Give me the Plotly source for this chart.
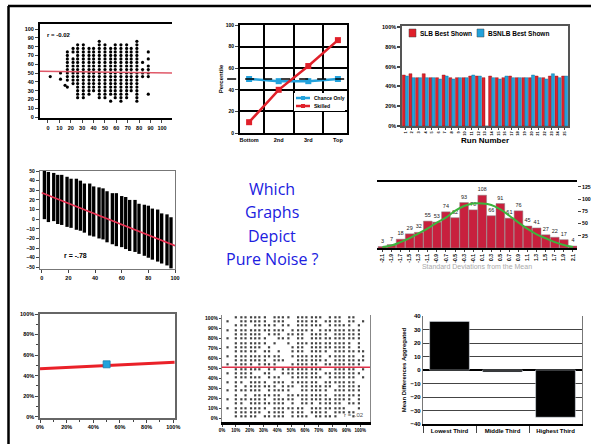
import plotly.graph_objects as go

W, H = 591, 444

# ---------------- DATA ----------------
# Panel 1: scatter (r = -0.02)
p1_cols = [17, 22, 26, 31, 36, 40, 45, 50, 55, 59, 64, 69, 73, 78, 83, 88]
p1_rows = [86, 82, 78, 74, 70, 66, 62, 58, 54, 50, 46, 42, 38, 34, 30, 26, 22, 18]
p1_mask = [
    "......#......#..",
    "..##..##.###.#..",
    ".#############..",
    "##############.#",
    "#.############..",
    "##############.#",
    "###############.",
    "##############.#",
    "################",
    "################",
    "################",
    "##############..",
    ".#############..",
    "#.############..",
    "..############..",
    "..###.######.#.#",
    "..##..##.###.#..",
    "........#.#..#..",
]
p1_extra_x = [2, 11, 11, 15]
p1_extra_y = [46, 50, 43, 36]
p1_fit_x = [-7, 109]
p1_fit_y = [52, 50]
p1_ticks = [0, 10, 20, 30, 40, 50, 60, 70, 80, 90, 100]

# Panel 2: percentile lines
p2_cats = ["Bottom", "2nd", "3rd", "Top"]
p2_names = ["Chance Only", "Skilled"]
p2_chance = [50, 48, 48, 50]
p2_skill = [10, 40, 62, 86]
p2_chance_level = 50

# Panel 3: grouped bars by run
p3_names = ["SLB Best Shown", "BSNLB Best Shown"]
p3_runs = list(range(1, 26))
p3_red = [51.5, 52.8, 48.8, 52.8, 48.8, 48.8, 51.5, 48.8, 48.8, 48.8, 50.5, 50.5, 48.8,
          50.5, 48.8, 48.8, 50.5, 48.8, 48.8, 48.8, 50.5, 48.8, 50.5, 50.5, 50.5]
p3_blue = [50.5, 48.8, 48.8, 48.8, 48.8, 47.5, 50.5, 47.5, 48.8, 48.8, 51.5, 50.5, 0,
           48.8, 47.5, 50.5, 48.8, 48.8, 48.8, 51.5, 48.8, 47.5, 52.8, 48.8, 50.5]
p3_yticks = [0, 20, 40, 60, 80, 100]

# Panel 4: dense negative scatter (columns low..high)
p4_x = [2, 5, 9, 12, 15, 19, 22, 26, 29, 32, 36, 39, 43, 46, 49, 53, 56, 60, 63, 66,
        70, 73, 77, 80, 83, 87, 90, 94, 97]
p4_high = [50, 49, 48, 46, 46, 44, 42, 42, 40, 37, 37, 34, 33, 32, 29, 27, 27, 24, 23, 20,
           20, 16, 15, 14, 11, 10, 6, 5, 2]
p4_low = [0, -3, -2, -5, -6, -8, -9, -11, -12, -14, -17, -18, -20, -21, -24, -26, -28, -29,
          -31, -33, -34, -36, -38, -40, -42, -44, -46, -48, -51]
p4_fit_x = [0, 100]
p4_fit_y = [27.5, -27.5]
p4_xticks = [0, 20, 40, 60, 80, 100]
p4_yticks = [-50, -40, -30, -20, -10, 0, 10, 20, 30, 40, 50]

# Panel 5: histogram with normal curve
p5_labels = ["-2.1", "-1.9", "-1.7", "-1.5", "-1.3", "-1.1", "-0.9", "-0.7", "-0.5", "-0.3",
             "-0.1", "0.1", "0.3", "0.5", "0.7", "0.9", "1.1", "1.3", "1.5", "1.7", "1.9", "2.1"]
p5_counts = [3, 7, 18, 29, 32, 55, 53, 74, 62, 93, 78, 108, 66, 91, 61, 76, 45, 41, 27, 22, 17, 4]
p5_normal = [2, 5, 12, 20, 30, 40, 52, 62, 76, 86, 91, 91, 88, 79, 66, 52, 39, 28, 20, 12, 6, 2]
p5_yticks = [25, 50, 75, 100, 125]

# Panel 6: flat line with one point
p6_fit_x = [0, 101]
p6_fit_y = [46.6, 53]
p6_point_x = [50]
p6_point_y = [51]
p6_ticks = [0, 20, 40, 60, 80, 100]

# Panel 7: dotted grid (r = -.02)
p7_cols = [4, 7, 10, 14, 17, 21, 24, 27, 31, 34, 38, 41, 44, 48, 51, 55, 58, 61, 65, 68,
           71, 75, 78, 82, 85, 88, 92, 95, 99, 102]
p7_rows = [101, 97, 93, 88, 84, 80, 75, 71, 67, 62, 58, 54, 49, 45, 41, 36, 32, 28, 23, 19,
           15, 10, 6, 2]
p7_mask = [
    "..#######.####.######.###.##..",
    "#..######.###..#####.####.##.#",
    "..###.#####.##.######.#####.#.",
    "#.###########.#####.#########.",
    "..######.###.####.####.######.",
    "#.#######..###.##.###########.",
    "..#######.#..#.############.#.",
    "#.######.#....###.#########.#.",
    "..#####.##.#..###.####.#######",
    "#.##########..#######.######.#",
    "..#######.###..#######.#######",
    "#.####.####...######.########.",
    "..######.##.#########..#####.#",
    "#.####..##..########.########.",
    "..######.###..#######.######.#",
    "#.##.####.###.######.#######..",
    "..#.#######.###.#######.#####.",
    "#.######.#####..######.######.",
    "..#.#.######.#########.######.",
    "#.#######.#####.###########.#.",
    "..##.########.#.###.#####.###.",
    "#.#######.#######.########..#.",
    "..######.####.###.####.#####..",
    "..#####.#####.####.#####...#..",
]
p7_fit_x = [0, 107]
p7_fit_y = [51, 51]
p7_ticks = [0, 10, 20, 30, 40, 50, 60, 70, 80, 90, 100]

# Panel 8: tercile bars
p8_cats = ["Lowest Third", "Middle Third", "Highest Third"]
p8_vals = [36, -1.5, -35]
p8_yticks = [-40, -30, -20, -10, 0, 10, 20, 30, 40]

center_lines = ["Which", "Graphs", "Depict", "Pure Noise ?"]


# ---------------- HELPERS ----------------
def px(x):
    return x / W


def py(y):
    return 1 - y / H


def dom_x(a, b):
    return [a / W, b / W]


def dom_y(top, bottom):
    return [1 - bottom / H, 1 - top / H]


def mask_points(cols, rows, mask):
    xs, ys = [], []
    for yv, line in zip(rows, mask):
        for xv, ch in zip(cols, line):
            if ch == "#":
                xs.append(xv)
                ys.append(yv)
    return xs, ys


FONT = "Liberation Sans"


def tf(size=6, color="black"):
    return dict(family=FONT, size=size, color=color, weight="bold")


RED = "#e0202a"
BLUE = "#22a2dc"

fig = go.Figure()

# Panel 1
p1x, p1y = mask_points(p1_cols, p1_rows, p1_mask)
fig.add_trace(go.Scatter(x=p1x + p1_extra_x, y=p1y + p1_extra_y, mode="markers",
                         marker=dict(size=3.2, color="black", symbol="circle"), showlegend=False,
                         xaxis="x", yaxis="y"))
fig.add_trace(go.Scatter(x=p1_fit_x, y=p1_fit_y, mode="lines",
                         line=dict(color="#e05868", width=1.5), showlegend=False,
                         xaxis="x", yaxis="y"))

# Panel 2
fig.add_trace(go.Scatter(x=p2_cats, y=p2_chance, mode="lines+markers", name=p2_names[0],
                         line=dict(color=BLUE, width=2.5),
                         marker=dict(symbol="square", size=6, color=BLUE),
                         xaxis="x2", yaxis="y2", showlegend=False))
fig.add_trace(go.Scatter(x=p2_cats, y=p2_skill, mode="lines+markers", name=p2_names[1],
                         line=dict(color=RED, width=2.5),
                         marker=dict(symbol="square", size=6, color=RED),
                         xaxis="x2", yaxis="y2", showlegend=False))

# Panel 3
fig.add_trace(go.Bar(x=p3_runs, y=p3_red, name=p3_names[0],
                     marker=dict(color=RED, line=dict(color="#8a1010", width=0.4)),
                     xaxis="x3", yaxis="y3", showlegend=False))
fig.add_trace(go.Bar(x=p3_runs, y=p3_blue, name=p3_names[1],
                     marker=dict(color=BLUE, line=dict(color="#106a90", width=0.4)),
                     xaxis="x3", yaxis="y3", showlegend=False))

# Panel 4
fig.add_trace(go.Bar(x=p4_x, y=[h - l for h, l in zip(p4_high, p4_low)], base=p4_low,
                     width=2.5, marker=dict(color="black", line=dict(width=0)),
                     showlegend=False, xaxis="x4", yaxis="y4"))
fig.add_trace(go.Scatter(x=p4_fit_x, y=p4_fit_y, mode="lines",
                         line=dict(color="#e83050", width=1.6), showlegend=False,
                         xaxis="x4", yaxis="y4"))

# Panel 5
p5_pos = list(range(len(p5_counts)))
fig.add_trace(go.Bar(x=p5_pos, y=p5_counts, width=0.96, text=p5_counts,
                     textposition="outside", textfont=dict(family=FONT, size=5.5, color="#222"),
                     marker=dict(color="#c8203e", line=dict(color="#8a8a8a", width=0.5)),
                     cliponaxis=False, showlegend=False, xaxis="x5", yaxis="y5"))
fig.add_trace(go.Scatter(x=p5_pos, y=p5_normal, mode="lines", line=dict(color="#3cb43c", width=2,
                         shape="spline"), showlegend=False, xaxis="x5", yaxis="y5"))

# Panel 6
fig.add_trace(go.Scatter(x=p6_fit_x, y=p6_fit_y, mode="lines", line=dict(color="#ea2028", width=3),
                         showlegend=False, xaxis="x6", yaxis="y6"))
fig.add_trace(go.Scatter(x=p6_point_x, y=p6_point_y, mode="markers",
                         marker=dict(symbol="square", size=7, color=BLUE,
                                     line=dict(color="#1a7fb0", width=0.8)),
                         showlegend=False, xaxis="x6", yaxis="y6"))

# Panel 7
p7x, p7y = mask_points(p7_cols, p7_rows, p7_mask)
fig.add_trace(go.Scatter(x=p7x, y=p7y, mode="markers",
                         marker=dict(size=2.2, color="#444", symbol="square"),
                         showlegend=False, xaxis="x7", yaxis="y7"))
fig.add_trace(go.Scatter(x=p7_fit_x, y=p7_fit_y, mode="lines",
                         line=dict(color="#e03048", width=1.5), showlegend=False,
                         xaxis="x7", yaxis="y7"))

# Panel 8
fig.add_trace(go.Bar(x=p8_cats, y=p8_vals, width=0.75, marker=dict(color="black"),
                     showlegend=False, xaxis="x8", yaxis="y8"))

# ---------------- LAYOUT ----------------
common = dict(showgrid=False, zeroline=False)

layout = dict(
    width=W, height=H, margin=dict(l=0, r=0, t=0, b=0, autoexpand=False),
    paper_bgcolor="white", plot_bgcolor="white", showlegend=False,
    barmode="group", bargap=0.08, bargroupgap=0,
    font=dict(family=FONT, size=6, color="black"),
    # P1
    xaxis=dict(domain=dom_x(40, 172), anchor="y", range=[-7, 108.8], tickvals=p1_ticks,
               tickangle=0, showline=True, mirror=True, linecolor="black", linewidth=2,
               ticks="outside", ticklen=3, tickfont=tf(5.5), **common),
    yaxis=dict(domain=dom_y(24, 118), anchor="x", range=[-1.1, 105.7], tickvals=p1_ticks,
               showline=True, linecolor="black", linewidth=2,
               ticks="outside", ticklen=3, tickfont=tf(5.5), **common),
    # P2
    xaxis2=dict(domain=dom_x(240, 347), anchor="y2", type="category", tickson="boundaries",
                tickangle=0, showgrid=True, gridcolor="black", gridwidth=2, zeroline=False,
                showline=True, mirror=True, linecolor="black", linewidth=2,
                ticks="", tickfont=tf(5.5)),
    yaxis2=dict(domain=dom_y(25, 133), anchor="x2", range=[0, 100], dtick=20,
                showgrid=True, gridcolor="black", gridwidth=2, zeroline=False,
                showline=True, mirror=True, linecolor="black", linewidth=2,
                ticks="outside", ticklen=3, tickfont=tf(5),
                title=dict(text="Percentile", font=tf(6), standoff=2)),
    # P3
    xaxis3=dict(domain=dom_x(402, 568), anchor="y3", range=[0.5, 25.5], tickvals=p3_runs,
                tickangle=-90, tickfont=tf(4), ticks="outside", ticklen=2,
                showline=True, mirror=True, linecolor="#555", linewidth=1.5,
                title=dict(text="Run Number", font=tf(8), standoff=1), **common),
    yaxis3=dict(domain=dom_y(26, 126), anchor="x3", range=[0, 101], tickvals=p3_yticks,
                ticktext=[f"{v}%" for v in p3_yticks], ticks="outside", ticklen=3, tickwidth=1.5,
                tickfont=tf(5.5), showline=True, mirror=True, linecolor="#555", linewidth=1.5,
                **common),
    # P4
    xaxis4=dict(domain=dom_x(40, 175), anchor="y4", range=[-1.3, 100], tickvals=p4_xticks,
                tickangle=0, ticks="outside", ticklen=3, tickfont=tf(5.5),
                showline=True, mirror=True, linecolor="#777", linewidth=1.2, **common),
    yaxis4=dict(domain=dom_y(171, 269), anchor="x4", range=[-51.7, 50], tickvals=p4_yticks,
                ticks="outside", ticklen=3, tickfont=tf(5),
                showline=True, mirror=True, linecolor="#777", linewidth=1.2, **common),
    # P5
    xaxis5=dict(domain=dom_x(377, 577), anchor="y5", range=[-0.6, 21.45], tickvals=p5_pos,
                ticktext=p5_labels, tickangle=-90, tickfont=tf(5), ticks="outside", ticklen=2,
                showline=True, mirror=True, linecolor="black", linewidth=2,
                title=dict(text="Standard Deviations from the Mean",
                           font=dict(family=FONT, size=7, color="#aaa"), standoff=2), **common),
    yaxis5=dict(domain=dom_y(182, 248), anchor="x5", side="right", range=[0, 135],
                tickvals=p5_yticks, ticks="outside", ticklen=3, tickfont=tf(5.2),
                showline=False, **common),
    # P6
    xaxis6=dict(domain=dom_x(40, 175), anchor="y6", range=[0, 101.3], tickvals=p6_ticks,
                ticktext=[f"{v}%" for v in p6_ticks], tickangle=0, ticks="outside", ticklen=3,
                tickfont=tf(5.5), minor=dict(dtick=10, ticks="outside", ticklen=2),
                showline=True, mirror=True, linecolor="#666", linewidth=1.5, **common),
    yaxis6=dict(domain=dom_y(314, 418), anchor="x6", range=[-1.3, 100], tickvals=p6_ticks,
                ticktext=[f"{v}%" for v in p6_ticks], ticks="outside", ticklen=3, tickfont=tf(5.5),
                minor=dict(dtick=10, ticks="outside", ticklen=2),
                showline=True, mirror=True, linecolor="#666", linewidth=1.5, **common),
    # P7
    xaxis7=dict(domain=dom_x(222, 370), anchor="y7", range=[0, 107], tickvals=p7_ticks,
                ticktext=[f"{v}%" for v in p7_ticks], tickangle=0, ticks="outside", ticklen=2,
                tickfont=tf(4.5),
                showline=True, linecolor="black", linewidth=3, **common),
    yaxis7=dict(domain=dom_y(315, 422), anchor="x7", range=[-3.7, 103.3], tickvals=p7_ticks,
                ticktext=[f"{v}%" for v in p7_ticks], ticks="outside", ticklen=2, tickfont=tf(5),
                showline=True, mirror=True, linecolor="#888", linewidth=1.2, **common),
    # P8
    xaxis8=dict(domain=dom_x(423, 582), anchor="y8", type="category", tickson="boundaries",
                tickangle=0, ticks="outside", ticklen=7, tickfont=tf(6), showline=True,
                linecolor="black", linewidth=1.5, showgrid=False, zeroline=False),
    yaxis8=dict(domain=dom_y(316, 424), anchor="x8", range=[-40, 40], tickvals=p8_yticks,
                showgrid=True, gridcolor="#444", gridwidth=1, zeroline=True,
                zerolinecolor="black", zerolinewidth=1.5, ticks="", tickfont=tf(6),
                showline=True, mirror=True, linecolor="#777", linewidth=1.2,
                title=dict(text="Mean Differences Aggregated", font=tf(6), standoff=3)),
)
fig.update_layout(**layout)

# chance level dashed line in panel 2
fig.add_shape(type="line", xref="x2 domain", x0=-0.12, x1=1.0, yref="y2",
              y0=p2_chance_level, y1=p2_chance_level, line=dict(color="black", width=1.5, dash="dash"))

# ---- legend for panel 2 (key drawn inside the plot) ----
fig.add_shape(type="rect", xref="paper", yref="paper", x0=px(294), x1=px(345), y0=py(111), y1=py(93),
              line=dict(width=0), fillcolor="white", layer="above")
for i, (name, col) in enumerate(zip(p2_names, [BLUE, RED])):
    yc = 98 + 8 * i
    fig.add_shape(type="line", xref="paper", yref="paper", x0=px(296), x1=px(310),
                  y0=py(yc), y1=py(yc), line=dict(color=col, width=2.5), layer="above")
    fig.add_shape(type="rect", xref="paper", yref="paper", x0=px(301), x1=px(305),
                  y0=py(yc + 2), y1=py(yc - 2), line=dict(width=0), fillcolor=col, layer="above")
    fig.add_annotation(text=name, xref="paper", yref="paper", x=px(312), y=py(yc),
                       xanchor="left", yanchor="middle", showarrow=False, font=tf(5))

# ---- legend for panel 3 ----
for name, col, sx in zip(p3_names, [RED, BLUE], [409, 477]):
    fig.add_shape(type="rect", xref="paper", yref="paper", x0=px(sx), x1=px(sx + 7),
                  y0=py(37), y1=py(29), line=dict(color="#444", width=0.5), fillcolor=col)
    fig.add_annotation(text=name, xref="paper", yref="paper", x=px(sx + 8.5), y=py(33),
                       xanchor="left", yanchor="middle", showarrow=False, font=tf(6.5))

# outer frame
fig.add_shape(type="line", xref="paper", yref="paper", x0=8 / W, x1=1, y0=1 - 6 / H, y1=1 - 6 / H,
              line=dict(color="black", width=2.5))
fig.add_shape(type="line", xref="paper", yref="paper", x0=8.5 / W, x1=8.5 / W, y0=0, y1=1 - 6 / H,
              line=dict(color="black", width=2.5))

# annotations
fig.add_annotation(text="r = -0.02", xref="x domain", yref="y domain", x=0.04, y=0.88,
                   xanchor="left", yanchor="middle", showarrow=False, font=tf(6))
fig.add_annotation(text="r = -.78", xref="x4 domain", yref="y4 domain", x=0.16, y=0.14,
                   xanchor="left", yanchor="middle", showarrow=False, font=tf(7))
fig.add_annotation(text="r = -.02", xref="x7 domain", yref="y7 domain", x=0.97, y=0.07,
                   xanchor="right", yanchor="middle", showarrow=False,
                   font=dict(family=FONT, size=6, color="#555"))

center_y = [189, 212, 236, 259]
for txt, yc in zip(center_lines, center_y):
    fig.add_annotation(text=txt, xref="paper", yref="paper", x=272 / W, y=1 - yc / H,
                       xanchor="center", yanchor="middle", showarrow=False,
                       font=dict(family="Open Sans", size=16, color="#2020e0"))

fig.write_html("out.html", config={"displayModeBar": False},
               post_script="document.body.style.margin='0px';"
               "document.documentElement.style.overflow='hidden';")
